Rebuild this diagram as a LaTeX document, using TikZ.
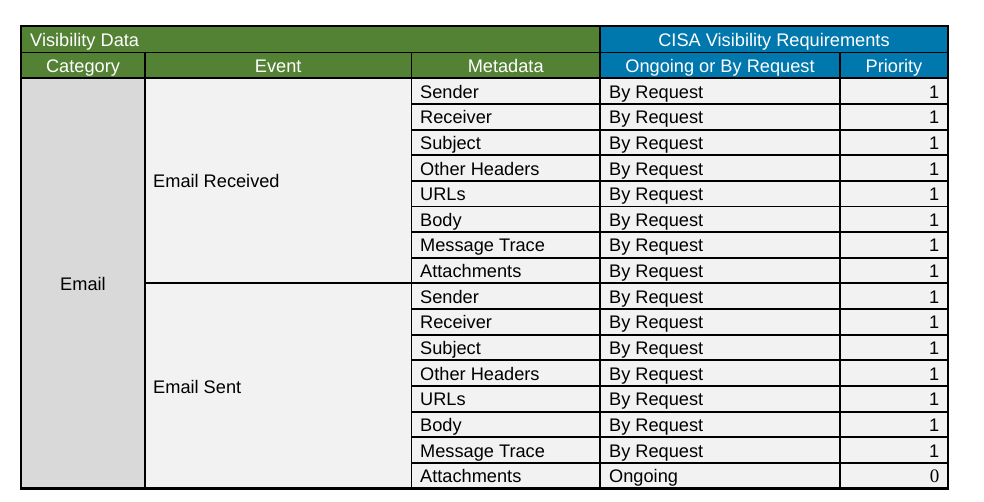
\documentclass[tikz,border=0pt]{standalone}
\usepackage{fontspec}
\setmainfont{Liberation Sans}
\newfontfamily\numserif{Liberation Serif}
\definecolor{hdrgreen}{HTML}{548235}
\definecolor{hdrblue}{HTML}{0078AE}
\definecolor{catgray}{HTML}{D9D9D9}
\definecolor{cellgray}{HTML}{F2F2F2}
\tikzset{
  grid/.style={line width=1.9bp, black},
  outer/.style={line width=2.3bp, black},
  hdr/.style={text=white, inner sep=0pt, anchor=base},
  hdrleft/.style={text=white, inner sep=0pt, anchor=base west},
  cell/.style={text=black, inner sep=0pt, anchor=base west},
  num/.style={text=black, inner sep=0pt, anchor=base east},
}
\begin{document}
\begin{tikzpicture}[x=1bp,y=-1bp,font=\fontsize{18.2bp}{20bp}\selectfont]
\useasboundingbox (0,0) rectangle (984,502);
% fills
\fill[hdrgreen] (21,26) rectangle (600,78.3);
\fill[hdrblue] (600,26) rectangle (948,78.3);
\fill[catgray] (21,78.3) rectangle (145,488.5);
\fill[cellgray] (145,78.3) rectangle (948,488.5);
% grid lines
\draw[grid] (21,52.5) -- (948,52.5);
\draw[grid] (21,78.3) -- (948,78.3);
\foreach \k in {1,...,15}{
  \pgfmathsetmacro\yy{78.3+\k*25.64}
  \draw[grid] (411.5,\yy) -- (948,\yy);
}
\draw[grid] (145,283.4) -- (411.5,283.4);
\draw[grid] (145,52.5) -- (145,488.5);
\draw[grid] (411.5,52.5) -- (411.5,488.5);
\draw[grid] (600,26) -- (600,488.5);
\draw[grid] (840,52.5) -- (840,488.5);
\draw[outer] (21,26) rectangle (948,488.5);
% header texts
\node[hdrleft] (vd) at (30,46.2) {Visibility Data};
\node[hdr] (cisa) at (774,46.2) {CISA Visibility Requirements};
\node[hdr] (hcat) at (83,72.4) {Category};
\node[hdr] (hev) at (278.2,72.4) {Event};
\node[hdr] (hmeta) at (505.7,72.4) {Metadata};
\node[hdr] (hongo) at (720,72.4) {Ongoing or By Request};
\node[hdr] (hprio) at (894,72.4) {Priority};
% category and events
\node[cell, anchor=base] (cat) at (83,290.4) {Email};
\node[cell] (evr) at (153,187.9) {Email Received};
\node[cell] (evs) at (153,393.0) {Email Sent};
% data rows
\foreach \m [count=\i] in {Sender,Receiver,Subject,Other Headers,URLs,Body,Message Trace,Attachments,Sender,Receiver,Subject,Other Headers,URLs,Body,Message Trace}{
  \pgfmathsetmacro\yb{78.3+(\i-0.5)*25.64+7}
  \node[cell] (m\i) at (420,\yb) {\m};
  \node[cell] (r\i) at (609,\yb) {By Request};
  \node[num] (p\i) at (939.5,\yb) {1};
}
\node[cell] (m16) at (420,482.7) {Attachments};
\node[cell] (r16) at (609,482.7) {Ongoing};
\node[num] (p16) at (939.5,482.7) {\numserif\fontsize{19bp}{20bp}\selectfont 0};
\end{tikzpicture}
\end{document}
